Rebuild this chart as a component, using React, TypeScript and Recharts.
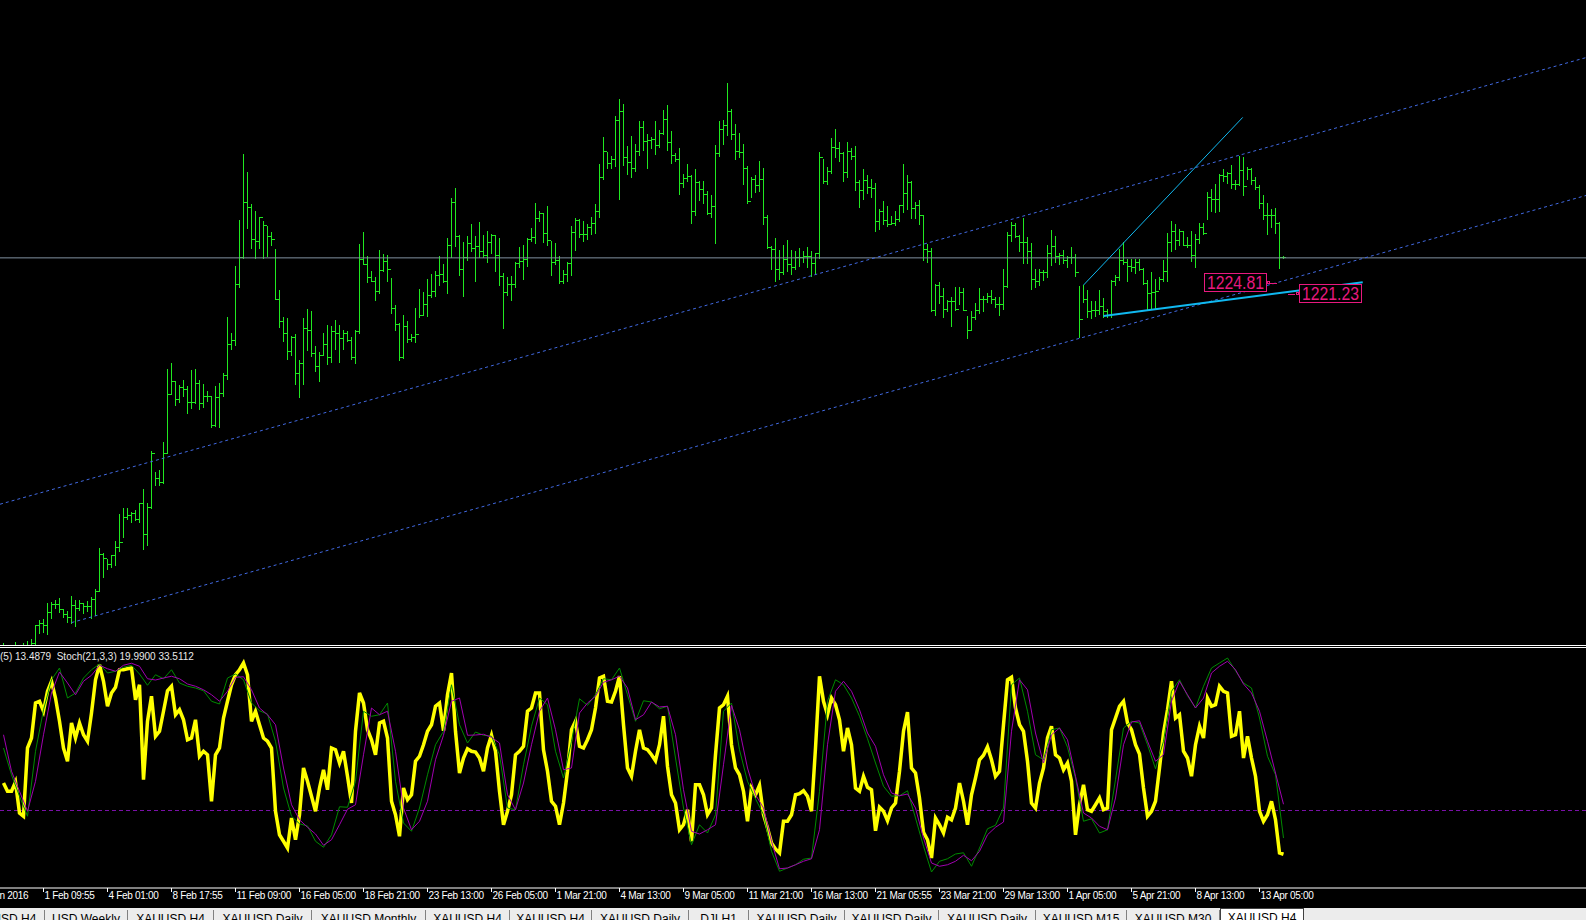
import React from 'react';
import {
  ComposedChart,
  Bar,
  Line,
  XAxis,
  YAxis,
  ReferenceLine,
  ReferenceDot,
} from 'recharts';

// ============================================
// XAUUSD H4, 27 Jan - 13 Apr 2016
// ============================================
const highs = [
  1111.9, 1110.8, 1110.5, 1112.1, 1110.9, 1111.9, 1112.4, 1113.1, 1117.6, 1119.2,
  1119.4, 1124.4, 1124.6, 1125.4, 1125.9, 1122.7, 1121.9, 1126.6, 1125.4, 1125.4,
  1124.4, 1124.9, 1126.2, 1128.7, 1141.6, 1140.0, 1138.1, 1139.5, 1143.7, 1152.3,
  1154.2, 1154.2, 1153.0, 1153.5, 1155.8, 1160.0, 1155.6, 1171.8, 1165.5, 1166.0,
  1174.8, 1197.7, 1199.4, 1193.7, 1192.6, 1194.2, 1192.1, 1197.3, 1197.5, 1194.2,
  1192.9, 1190.8, 1189.2, 1192.1, 1193.1, 1196.2, 1213.7, 1208.9, 1229.8, 1244.2,
  1264.8, 1259.2, 1249.2, 1247.0, 1245.2, 1243.8, 1242.3, 1240.4, 1235.1, 1222.3,
  1213.7, 1213.5, 1207.9, 1208.5, 1200.4, 1213.5, 1216.3, 1215.7, 1204.6, 1202.9,
  1208.7, 1211.2, 1211.0, 1212.9, 1211.2, 1209.6, 1209.4, 1207.5, 1209.8, 1236.6,
  1240.3, 1232.9, 1228.1, 1226.4, 1234.8, 1233.5, 1233.1, 1226.0, 1217.5, 1211.9,
  1214.5, 1212.6, 1208.4, 1216.6, 1222.6, 1221.6, 1225.7, 1227.3, 1228.2, 1232.9,
  1230.4, 1238.5, 1251.0, 1254.2, 1239.5, 1237.3, 1239.2, 1242.9, 1239.2, 1243.5,
  1239.6, 1240.6, 1239.8, 1239.5, 1238.5, 1227.7, 1226.4, 1226.6, 1231.0, 1235.8,
  1236.4, 1238.5, 1241.6, 1249.5, 1247.0, 1246.3, 1248.5, 1237.7, 1237.0, 1232.9,
  1228.5, 1231.0, 1242.3, 1244.8, 1244.4, 1243.8, 1242.9, 1245.2, 1249.2, 1261.7,
  1270.1, 1265.4, 1264.2, 1276.7, 1282.0, 1280.4, 1267.3, 1270.4, 1267.9, 1275.1,
  1275.0, 1271.0, 1270.0, 1275.1, 1272.3, 1278.4, 1280.1, 1272.0, 1265.0, 1266.6,
  1258.5, 1261.7, 1258.3, 1260.1, 1256.4, 1256.3, 1253.2, 1251.9, 1267.6, 1275.1,
  1275.3, 1287.0, 1278.7, 1274.2, 1271.2, 1267.9, 1261.0, 1257.7, 1258.1, 1262.6,
  1260.4, 1245.7, 1236.1, 1238.5, 1234.8, 1236.4, 1237.9, 1234.8, 1234.4, 1235.4,
  1234.3, 1235.7, 1234.4, 1233.8, 1265.4, 1263.3, 1260.6, 1269.8, 1272.5, 1268.5,
  1265.4, 1268.5, 1266.6, 1267.3, 1256.7, 1260.0, 1258.3, 1257.1, 1255.7, 1247.7,
  1250.1, 1248.5, 1245.4, 1246.9, 1248.7, 1261.7, 1258.2, 1256.4, 1249.7, 1250.4,
  1245.6, 1236.6, 1235.4, 1224.1, 1224.8, 1222.9, 1219.0, 1220.2, 1223.3, 1223.3,
  1222.9, 1214.1, 1215.6, 1218.3, 1222.9, 1220.4, 1221.2, 1222.3, 1220.0, 1220.0,
  1228.9, 1240.3, 1243.5, 1243.1, 1239.4, 1244.9, 1238.7, 1236.9, 1228.7, 1228.7,
  1228.5, 1236.4, 1241.0, 1239.2, 1233.9, 1234.8, 1232.9, 1235.6, 1233.5, 1223.5,
  1223.7, 1222.3, 1218.9, 1218.7, 1222.3, 1219.7, 1216.2, 1225.4, 1227.1, 1235.0,
  1237.2, 1232.1, 1231.9, 1232.0, 1231.9, 1229.2, 1225.4, 1227.8, 1225.8, 1226.4,
  1231.5, 1240.0, 1243.7, 1242.9, 1241.4, 1240.8, 1238.7, 1240.8, 1239.8, 1243.1,
  1243.1, 1252.9, 1253.9, 1255.4, 1258.4, 1260.0, 1259.2, 1261.2, 1256.7, 1264.2,
  1263.9, 1260.6, 1260.4, 1257.7, 1255.2, 1251.9, 1249.4, 1247.5, 1247.8, 1243.4,
  1232.9,
];

const lows = [
  1106.5, 1106.0, 1105.8, 1107.0, 1106.8, 1107.4, 1108.0, 1108.5, 1110.5, 1115.2,
  1115.5, 1114.6, 1119.6, 1123.0, 1121.5, 1120.0, 1118.6, 1118.3, 1117.3, 1122.3,
  1121.2, 1121.8, 1119.6, 1120.6, 1128.1, 1132.7, 1135.1, 1135.6, 1136.2, 1140.8,
  1145.2, 1150.6, 1149.6, 1150.4, 1149.6, 1141.2, 1142.7, 1154.0, 1161.2, 1161.2,
  1161.9, 1171.4, 1189.7, 1186.3, 1187.1, 1189.0, 1183.8, 1185.3, 1186.9, 1185.2,
  1185.8, 1187.7, 1179.4, 1179.6, 1179.4, 1189.2, 1194.4, 1203.9, 1205.2, 1223.3,
  1232.3, 1241.5, 1235.5, 1232.2, 1235.5, 1232.4, 1233.0, 1236.4, 1219.4, 1210.8,
  1206.4, 1200.8, 1201.9, 1193.0, 1188.9, 1193.0, 1203.5, 1201.5, 1196.8, 1193.9,
  1201.9, 1199.0, 1199.8, 1203.9, 1199.8, 1203.9, 1206.4, 1200.8, 1199.3, 1208.9,
  1230.3, 1224.8, 1225.0, 1219.2, 1221.4, 1228.3, 1225.2, 1215.2, 1209.8, 1200.4,
  1201.1, 1206.1, 1206.2, 1206.1, 1213.9, 1214.5, 1214.1, 1220.2, 1220.5, 1223.9,
  1224.9, 1221.4, 1232.7, 1236.1, 1226.8, 1220.5, 1231.5, 1234.3, 1225.2, 1232.7,
  1232.5, 1231.1, 1233.7, 1228.3, 1223.9, 1210.5, 1220.7, 1219.2, 1223.3, 1229.4,
  1225.8, 1229.9, 1237.5, 1236.9, 1243.7, 1237.3, 1236.4, 1226.8, 1230.3, 1224.4,
  1224.4, 1225.2, 1227.1, 1234.8, 1238.9, 1237.7, 1238.1, 1239.8, 1240.2, 1245.2,
  1257.1, 1260.4, 1260.5, 1261.0, 1250.8, 1261.4, 1258.5, 1257.7, 1259.6, 1264.4,
  1266.0, 1260.5, 1266.6, 1264.9, 1266.8, 1271.1, 1266.1, 1262.1, 1262.5, 1252.4,
  1254.4, 1256.2, 1243.3, 1245.8, 1250.5, 1249.5, 1246.0, 1245.0, 1237.1, 1264.2,
  1268.0, 1270.8, 1269.3, 1263.3, 1263.7, 1255.4, 1249.3, 1251.4, 1252.9, 1253.1,
  1243.0, 1235.3, 1228.9, 1225.2, 1225.8, 1227.3, 1228.3, 1227.4, 1228.9, 1229.9,
  1231.0, 1229.6, 1226.6, 1227.3, 1232.3, 1255.8, 1255.5, 1258.7, 1263.7, 1262.6,
  1256.3, 1257.7, 1263.1, 1253.5, 1248.2, 1250.7, 1252.7, 1251.3, 1240.8, 1241.2,
  1242.8, 1242.4, 1242.8, 1242.5, 1243.7, 1246.7, 1247.5, 1244.9, 1244.8, 1242.9,
  1231.6, 1231.0, 1215.6, 1214.6, 1218.3, 1213.9, 1215.8, 1211.0, 1216.0, 1217.9,
  1216.0, 1207.1, 1209.6, 1213.3, 1215.2, 1215.8, 1218.5, 1218.3, 1217.1, 1214.6,
  1216.2, 1223.1, 1237.7, 1238.9, 1234.6, 1230.8, 1230.8, 1222.7, 1223.3, 1223.7,
  1225.4, 1226.2, 1230.0, 1231.1, 1230.4, 1230.8, 1229.4, 1230.6, 1226.5, 1207.7,
  1218.5, 1213.7, 1213.6, 1214.1, 1214.8, 1213.9, 1213.9, 1213.9, 1223.7, 1225.4,
  1230.4, 1225.2, 1228.1, 1227.7, 1228.5, 1224.1, 1216.0, 1216.2, 1216.2, 1222.7,
  1225.0, 1225.2, 1234.6, 1235.0, 1236.2, 1236.2, 1235.8, 1231.4, 1229.4, 1236.9,
  1239.8, 1244.6, 1246.9, 1246.7, 1246.9, 1256.2, 1255.6, 1254.2, 1253.9, 1255.2,
  1251.9, 1256.9, 1255.4, 1253.9, 1247.9, 1244.6, 1239.9, 1242.1, 1240.2, 1229.0,
  1232.2,
];

const closes = [
  1109.0, 1109.5, 1108.0, 1110.0, 1109.2, 1110.5, 1111.0, 1112.0, 1117.4, 1118.1,
  1117.6, 1121.7, 1124.2, 1124.2, 1122.5, 1121.0, 1120.0, 1123.7, 1122.9, 1124.4,
  1123.5, 1123.5, 1125.6, 1128.1, 1139.8, 1138.5, 1136.7, 1139.4, 1141.9, 1143.5,
  1151.4, 1151.9, 1152.7, 1150.8, 1155.6, 1145.9, 1154.4, 1171.2, 1163.4, 1162.3,
  1171.4, 1189.8, 1193.7, 1188.2, 1191.9, 1191.2, 1187.1, 1187.1, 1193.1, 1186.9,
  1189.2, 1189.2, 1180.0, 1188.7, 1190.2, 1195.6, 1205.4, 1206.6, 1224.0, 1232.5,
  1249.7, 1248.1, 1238.1, 1237.7, 1245.0, 1242.5, 1239.2, 1238.1, 1219.6, 1212.5,
  1208.7, 1203.1, 1207.7, 1196.2, 1199.4, 1210.4, 1209.8, 1202.5, 1198.5, 1201.9,
  1205.4, 1201.2, 1209.4, 1208.7, 1207.3, 1208.9, 1206.6, 1201.2, 1209.4, 1232.1,
  1230.4, 1226.4, 1225.2, 1221.9, 1228.5, 1231.2, 1228.9, 1216.6, 1211.5, 1201.4,
  1211.0, 1206.9, 1207.7, 1208.5, 1214.4, 1217.9, 1220.6, 1221.9, 1226.9, 1227.3,
  1225.0, 1236.3, 1249.7, 1239.2, 1228.7, 1232.5, 1236.9, 1235.4, 1236.0, 1234.4,
  1233.3, 1237.3, 1239.4, 1233.1, 1226.6, 1221.6, 1224.1, 1224.1, 1230.6, 1231.2,
  1232.1, 1238.1, 1238.9, 1244.8, 1246.2, 1240.0, 1237.8, 1231.0, 1231.6, 1225.1,
  1227.3, 1230.6, 1240.4, 1244.1, 1239.8, 1239.8, 1241.9, 1243.1, 1246.9, 1257.5,
  1265.6, 1261.9, 1263.3, 1275.4, 1278.3, 1263.9, 1262.3, 1260.4, 1265.8, 1273.3,
  1268.9, 1269.1, 1269.4, 1267.5, 1271.2, 1275.8, 1268.5, 1264.4, 1263.1, 1255.6,
  1257.3, 1257.9, 1246.9, 1256.0, 1253.9, 1252.3, 1246.4, 1248.5, 1265.0, 1272.5,
  1273.7, 1278.3, 1271.0, 1265.8, 1265.4, 1260.3, 1250.0, 1256.9, 1255.0, 1256.9,
  1245.0, 1235.6, 1235.2, 1228.7, 1228.0, 1231.9, 1230.4, 1229.6, 1232.7, 1232.5,
  1232.9, 1232.9, 1230.8, 1233.7, 1263.7, 1256.4, 1259.4, 1266.9, 1266.5, 1265.2,
  1259.2, 1265.8, 1264.2, 1256.0, 1253.5, 1256.7, 1254.4, 1254.0, 1243.7, 1246.9,
  1244.1, 1242.9, 1243.1, 1244.4, 1248.7, 1252.7, 1256.0, 1247.8, 1248.9, 1245.6,
  1235.0, 1234.4, 1216.0, 1223.7, 1220.4, 1216.4, 1218.7, 1218.7, 1216.4, 1221.6,
  1216.0, 1209.6, 1213.7, 1216.0, 1219.4, 1219.6, 1220.4, 1219.6, 1217.9, 1217.9,
  1223.5, 1239.4, 1242.5, 1239.2, 1237.2, 1237.2, 1234.4, 1225.8, 1225.0, 1227.9,
  1227.9, 1233.7, 1236.0, 1232.9, 1233.1, 1231.6, 1232.5, 1232.5, 1228.0, 1213.1,
  1219.6, 1215.6, 1216.0, 1216.0, 1217.3, 1215.6, 1214.4, 1225.0, 1226.4, 1231.6,
  1231.0, 1229.8, 1229.6, 1231.0, 1228.7, 1224.6, 1221.4, 1221.6, 1221.9, 1225.6,
  1228.3, 1237.3, 1240.8, 1237.9, 1240.8, 1236.4, 1236.2, 1233.3, 1238.3, 1242.1,
  1240.0, 1251.4, 1250.8, 1250.8, 1258.2, 1257.9, 1258.7, 1255.4, 1255.4, 1259.8,
  1254.8, 1260.0, 1256.7, 1254.4, 1249.4, 1245.8, 1245.8, 1245.7, 1243.3, 1232.7,
  1232.5,
];

// yellow line, one value per bar
const fastK = [
  42.0, 38.7, 38.7, 42.4, 30.0, 28.7, 56.0, 60.0, 74.0, 74.7,
  70.7, 78.7, 82.7, 76.0, 66.7, 56.0, 50.7, 66.0, 60.0, 66.0,
  61.3, 58.7, 70.0, 83.3, 89.3, 82.7, 72.7, 78.0, 80.3, 87.3,
  87.3, 87.7, 88.0, 75.3, 81.3, 43.3, 66.7, 76.7, 60.7, 62.7,
  70.7, 78.9, 80.7, 69.3, 71.3, 67.3, 59.3, 60.0, 67.3, 52.7,
  54.7, 53.3, 34.7, 53.3, 56.0, 68.0, 74.7, 81.3, 85.3, 87.3,
  90.0, 85.3, 66.7, 70.7, 65.3, 60.0, 58.7, 56.0, 30.7, 21.3,
  18.7, 16.0, 28.0, 19.3, 29.3, 48.0, 42.7, 36.7, 30.7, 40.0,
  47.3, 39.3, 56.0, 55.3, 50.0, 54.7, 44.7, 34.0, 62.7, 78.0,
  74.0, 63.3, 59.3, 53.3, 66.0, 66.7, 60.0, 34.7, 29.3, 20.7,
  40.0, 35.3, 37.3, 50.7, 52.7, 57.3, 62.7, 65.3, 72.7, 74.0,
  62.9, 77.3, 86.0, 62.7, 46.0, 52.0, 55.7, 54.7, 54.4, 52.0,
  46.7, 56.0, 61.1, 54.7, 38.7, 25.3, 30.7, 37.3, 53.3, 54.7,
  56.7, 70.7, 72.0, 78.0, 78.0, 55.3, 46.7, 34.7, 32.7, 25.3,
  34.0, 46.7, 63.3, 66.7, 56.7, 56.0, 59.3, 63.3, 72.0, 84.0,
  84.7, 74.7, 74.4, 78.7, 84.7, 65.3, 48.0, 44.7, 54.7, 63.3,
  56.0, 55.3, 53.3, 50.9, 57.3, 68.7, 48.7, 37.3, 34.0, 23.3,
  25.3, 31.3, 18.7, 41.3, 41.3, 37.3, 29.3, 32.0, 53.3, 72.0,
  73.3, 76.7, 57.3, 48.0, 45.3, 38.7, 26.7, 40.0, 37.3, 41.1,
  29.3, 24.0, 18.0, 15.6, 14.0, 26.7, 26.7, 29.3, 37.3, 37.7,
  38.9, 36.7, 30.7, 56.0, 84.7, 74.7, 69.3, 76.0, 73.3, 67.3,
  54.7, 64.0, 57.3, 40.0, 38.7, 44.7, 40.3, 39.3, 22.9, 32.3,
  30.7, 26.9, 32.0, 34.0, 46.7, 62.7, 70.4, 48.0, 46.0, 36.0,
  22.3, 19.3, 12.0, 28.0, 25.3, 22.0, 28.3, 27.3, 32.0, 42.0,
  34.7, 25.3, 37.3, 44.0, 51.3, 53.1, 56.5, 51.3, 44.7, 46.7,
  65.3, 83.3, 84.3, 72.0, 65.3, 62.7, 50.7, 34.0, 32.0, 42.0,
  48.0, 60.0, 64.7, 53.3, 52.0, 47.3, 50.0, 42.7, 21.3, 33.3,
  41.3, 31.3, 30.7, 33.3, 36.0, 31.3, 32.0, 63.3, 68.0, 72.7,
  74.7, 66.0, 63.3, 57.3, 53.6, 40.0, 28.7, 30.7, 34.7, 48.0,
  62.0, 71.3, 82.7, 68.0, 69.3, 54.7, 52.0, 44.7, 57.3, 64.7,
  60.0, 76.0, 72.7, 73.3, 80.7, 78.7, 78.0, 60.7, 61.3, 70.7,
  52.0, 60.7, 52.0, 44.7, 30.7, 26.7, 29.3, 34.7, 27.3, 14.0,
  13.5,
];

// Stoch(21,3,3) main (green), read at every second bar
const stochMain = [
  56.0, 45.3, 36.7, 28.7, 54.7, 71.3, 83.3, 88.0, 76.0, 78.0,
  84.0, 87.3, 89.6, 86.0, 86.7, 88.3, 89.1, 85.6, 81.1, 85.3,
  83.7, 87.3, 82.0, 80.7, 80.0, 78.9, 74.7, 73.6, 84.0, 85.6,
  83.3, 74.0, 70.9, 69.6, 58.7, 40.0, 28.7, 25.7, 24.8, 18.7,
  16.3, 21.3, 32.5, 32.3, 42.7, 70.7, 68.7, 69.3, 74.0, 42.7,
  26.0, 22.7, 32.0, 45.3, 57.3, 62.7, 81.3, 65.3, 58.0, 62.4,
  61.1, 60.7, 53.3, 32.0, 31.3, 49.3, 64.7, 76.0, 73.3, 54.7,
  44.0, 58.7, 75.7, 73.1, 77.3, 83.7, 83.3, 88.0, 77.3, 66.7,
  74.9, 74.4, 71.7, 72.7, 52.0, 32.0, 17.3, 25.3, 22.0, 29.3,
  70.7, 74.0, 55.3, 42.7, 35.7, 29.3, 14.7, 6.7, 8.0, 9.3,
  11.5, 12.0, 38.7, 74.7, 83.3, 81.3, 76.0, 68.7, 59.7, 50.0,
  40.7, 36.7, 36.9, 38.9, 28.0, 16.7, 6.4, 10.7, 11.7, 13.6,
  14.1, 8.7, 16.0, 23.7, 25.1, 32.0, 81.3, 84.0, 70.7, 53.3,
  51.3, 63.3, 64.0, 56.3, 44.0, 26.7, 27.7, 22.0, 23.3, 43.3,
  64.0, 66.7, 66.0, 57.3, 47.7, 58.7, 78.7, 83.3, 76.9, 72.0,
  80.7, 88.0, 90.0, 92.0, 86.9, 82.0, 80.0, 68.0, 52.7, 45.3,
  20.0,
];

// Stoch(21,3,3) signal (purple), read at every second bar
const stochSignal = [
  61.3, 46.7, 38.7, 30.7, 42.7, 61.3, 78.0, 86.4, 82.0, 77.3,
  82.7, 85.1, 89.1, 87.7, 86.7, 89.1, 89.9, 88.7, 83.7, 83.2,
  84.0, 84.7, 83.7, 81.6, 80.7, 79.3, 77.3, 74.7, 78.7, 84.3,
  84.5, 79.3, 72.0, 69.3, 65.3, 48.0, 33.3, 27.3, 24.3, 21.6,
  17.1, 19.3, 25.3, 31.5, 33.3, 53.3, 72.0, 69.3, 70.7, 54.7,
  32.0, 23.3, 26.7, 34.7, 51.3, 61.1, 74.7, 76.0, 61.1, 61.2,
  61.5, 60.3, 58.0, 37.3, 31.3, 42.0, 57.3, 70.7, 76.0, 63.3,
  47.3, 48.0, 70.0, 74.0, 76.7, 82.3, 83.3, 84.7, 80.0, 67.3,
  69.3, 74.4, 72.4, 72.7, 61.3, 39.3, 22.7, 21.6, 23.3, 25.3,
  49.3, 73.1, 63.3, 48.0, 37.3, 32.0, 18.7, 7.7, 8.0, 9.3,
  10.7, 11.7, 23.3, 57.3, 78.7, 82.7, 78.7, 71.3, 62.0, 56.7,
  45.3, 38.0, 36.9, 37.6, 32.0, 20.0, 10.0, 8.7, 9.3, 10.7,
  13.1, 10.9, 14.7, 21.3, 24.3, 26.4, 62.7, 83.3, 79.3, 62.0,
  50.0, 61.3, 64.0, 59.3, 44.7, 30.0, 28.0, 24.7, 23.3, 36.0,
  57.3, 66.4, 66.9, 58.7, 50.7, 53.3, 74.7, 82.7, 77.3, 72.0,
  76.0, 86.0, 88.7, 90.7, 87.3, 81.6, 78.0, 70.7, 58.7, 46.0,
  33.5,
];

const stochLevel = 31;
const bidPrice = 1232.3;

// time scale: bar index of each label
const timeTickBars = [-7, 10, 26, 42, 58, 74, 90, 106, 122, 138, 154, 170, 186, 202, 218, 234, 250, 266, 282, 298, 314];
const timeLabels = [
  '27 Jan 2016', '1 Feb 09:55', '4 Feb 01:00', '8 Feb 17:55', '11 Feb 09:00', '16 Feb 05:00',
  '18 Feb 21:00', '23 Feb 13:00', '26 Feb 05:00', '1 Mar 21:00', '4 Mar 13:00', '9 Mar 05:00',
  '11 Mar 21:00', '16 Mar 13:00', '21 Mar 05:55', '23 Mar 21:00', '29 Mar 13:00', '1 Apr 05:00',
  '5 Apr 21:00', '8 Apr 13:00', '13 Apr 05:00',
];

// drawn objects: [bar index, price] end points
const channelLines = [
  [{ x: -0.875, y: 1155.3 }, { x: 395.625, y: 1294.9 }],
  [{ x: 17, y: 1118.3 }, { x: 395.625, y: 1251.8 }],
];
const steepLine = [{ x: 270, y: 1223.8 }, { x: 309.8, y: 1276.2 }];
const supportLine = [{ x: 275, y: 1214.15 }, { x: 339.8, y: 1224.7 }];
const priceTags = [
  { bar: 316.1, price: 1224.81, side: 'left' },
  { bar: 323.4, price: 1221.23, side: 'right' },
];

const tabLabels = [
  'XAUUSD,H4', 'USD,Weekly', 'XAUUSD,H4', 'XAUUSD,Daily', 'XAUUSD,Monthly', 'XAUUSD,H4',
  'XAUUSD,H4', 'XAUUSD,Daily', 'DJI,H1', 'XAUUSD,Daily', 'XAUUSD,Daily', 'XAUUSD,Daily',
  'XAUUSD,M15', 'XAUUSD,M30', 'XAUUSD,H4',
];
const tabEdges = [-40, 45, 128, 214, 312, 426, 510, 592, 689, 749, 845, 939, 1036, 1127, 1220, 1304];

// ============================================
// layout
// ============================================
const W = 1586;
const PRICE_H = 645;
const STOCH_TOP = 648;
const STOCH_PLOT_H = 240;
const AXIS_H = 19;
const X_DOMAIN: [number, number] = [-0.875, 395.625];
const PRICE_DOMAIN: [number, number] = [1111.3, 1312.9];

const BAR_GREEN = '#20e820';
const CHANNEL_BLUE = '#4169e1';
const SKY = '#10b8f0';
const TAG_PINK = '#e8197f';
const FONT = '"Liberation Sans", Arial, sans-serif';

const priceRows = highs.map((h, i) => ({
  i,
  high: h,
  low: lows[i],
  close: closes[i],
  open: i > 0 ? closes[i - 1] : closes[i],
}));

const stochRows = fastK.map((v, i) => ({
  i,
  fast: v,
  main: i % 2 === 0 ? stochMain[i / 2] : null,
  signal: i % 2 === 0 ? stochSignal[i / 2] : null,
}));

function OhlcBar(props: any) {
  const { x, y, width, height, payload } = props;
  if (x == null || y == null || !payload) return null;
  const col = Math.floor(x + width / 2);
  const top = Math.min(y, y + height);
  const bottom = Math.max(y, y + height);
  const span = payload.high - payload.low;
  const k = span > 0 ? (bottom - top) / span : 0;
  const oy = Math.round(top + (payload.high - payload.open) * k);
  const cy = Math.round(top + (payload.high - payload.close) * k);
  return (
    <g fill={BAR_GREEN}>
      <rect x={col} y={Math.round(top)} width={1} height={Math.max(1, Math.round(bottom) - Math.round(top) + 1)} />
      <rect x={col - 1} y={oy} width={1} height={1} />
      <rect x={col + 1} y={cy} width={2} height={1} />
    </g>
  );
}

function PriceTag(props: any) {
  const { cx, cy, text, side } = props;
  if (cx == null || cy == null) return null;
  const ax = Math.round(cx);
  const ay = Math.round(cy);
  const boxW = 62;
  const boxH = 18;
  const bx = side === 'left' ? ax - boxW - 2 : ax + 2;
  const lineX1 = side === 'left' ? ax + 2 : ax - 9;
  const lineX2 = side === 'left' ? ax + 9 : ax - 2;
  return (
    <g>
      <rect x={bx + 0.5} y={ay - 9 + 0.5} width={boxW} height={boxH} fill="#000" stroke={TAG_PINK} strokeWidth={1} />
      <text
        x={bx + 3}
        y={ay + 7}
        fill={TAG_PINK}
        fontSize={19}
        fontFamily={FONT}
        textLength={57}
        lengthAdjust="spacingAndGlyphs"
      >
        {text}
      </text>
      <rect x={ax - 1 + 0.5} y={ay - 1 + 0.5} width={2} height={2} fill="#000" stroke={TAG_PINK} strokeWidth={1} />
      <line x1={lineX1} x2={lineX2} y1={ay + 1.5} y2={ay + 1.5} stroke={TAG_PINK} strokeWidth={1} />
    </g>
  );
}

function TimeTick(props: any) {
  const { x, y, payload } = props;
  const idx = timeTickBars.indexOf(payload.value);
  if (idx < 0) return null;
  return (
    <text x={x + 1} y={y + 7} fill="#ffffff" fontSize={10} fontFamily={FONT} letterSpacing={-0.3}>
      {timeLabels[idx]}
    </text>
  );
}

function PriceChart() {
  return (
    <ComposedChart width={W} height={PRICE_H} data={priceRows} margin={{ top: 0, right: 0, bottom: 0, left: 0 }}>
      <XAxis dataKey="i" type="number" domain={X_DOMAIN} allowDataOverflow hide />
      <YAxis type="number" domain={PRICE_DOMAIN} allowDataOverflow hide />
      <ReferenceLine y={bidPrice} stroke="#8090a0" strokeWidth={1} />
      {channelLines.map((seg, n) => (
        <ReferenceLine
          key={`ch-${n}`}
          segment={seg}
          stroke={CHANNEL_BLUE}
          strokeWidth={1}
          strokeDasharray="3 3"
          ifOverflow="hidden"
        />
      ))}
      <Bar
        dataKey={(d: any) => [d.low, d.high]}
        barSize={1}
        shape={(p: any) => <OhlcBar {...p} />}
        isAnimationActive={false}
      />
      <ReferenceLine segment={steepLine} stroke={SKY} strokeWidth={1} ifOverflow="hidden" />
      <ReferenceLine segment={supportLine} stroke={SKY} strokeWidth={2} ifOverflow="hidden" />
      {priceTags.map((t) => (
        <ReferenceDot
          key={t.price}
          x={t.bar}
          y={t.price}
          ifOverflow="visible"
          shape={(p: any) => <PriceTag {...p} text={t.price.toFixed(2)} side={t.side} />}
        />
      ))}
    </ComposedChart>
  );
}

function StochChart() {
  return (
    <ComposedChart
      width={W}
      height={STOCH_PLOT_H + AXIS_H}
      data={stochRows}
      margin={{ top: 0, right: 0, bottom: 0, left: 0 }}
    >
      <XAxis
        dataKey="i"
        type="number"
        domain={X_DOMAIN}
        allowDataOverflow
        ticks={timeTickBars}
        interval={0}
        height={AXIS_H}
        axisLine={{ stroke: '#ffffff' }}
        tickLine={{ stroke: '#ffffff' }}
        tickSize={4}
        tickMargin={0}
        tick={(p: any) => <TimeTick {...p} />}
      />
      <YAxis type="number" domain={[0, 96]} allowDataOverflow hide />
      <ReferenceLine y={stochLevel} stroke="#7a10a8" strokeDasharray="4 3" />
      <Line dataKey="fast" stroke="#ffff00" strokeWidth={3.5} dot={false} isAnimationActive={false} />
      <Line dataKey="main" stroke="#008a00" strokeWidth={1} dot={false} connectNulls isAnimationActive={false} />
      <Line dataKey="signal" stroke="#a000b0" strokeWidth={1} dot={false} connectNulls isAnimationActive={false} />
    </ComposedChart>
  );
}

function TabBar() {
  return (
    <div style={{ position: 'absolute', left: 0, top: 908, width: W, height: 12, background: '#ececec', overflow: 'hidden' }}>
      {tabLabels.map((label, n) => {
        const left = tabEdges[n];
        const width = tabEdges[n + 1] - left;
        const active = n === tabLabels.length - 1;
        return (
          <div
            key={n}
            style={{
              position: 'absolute',
              left,
              top: active ? 0 : 2,
              width,
              height: 14,
              boxSizing: 'border-box',
              background: active ? '#ffffff' : 'transparent',
              border: active ? '1px solid #404040' : 'none',
              borderRight: active ? '1px solid #404040' : '1px solid #808080',
              fontFamily: FONT,
              fontSize: 12,
              lineHeight: '14px',
              color: '#000',
              textAlign: 'center',
              whiteSpace: 'nowrap',
              paddingTop: 2,
            }}
          >
            {label}
          </div>
        );
      })}
    </div>
  );
}

export default function App() {
  return (
    <div style={{ position: 'fixed', left: 0, top: 0, width: W, height: 920, background: '#000', overflow: 'hidden' }}>
      <div style={{ position: 'absolute', left: 0, top: 0 }}>
        <PriceChart />
      </div>
      <div style={{ position: 'absolute', left: 0, top: 645, width: W, height: 1, background: '#ffffff' }} />
      <div style={{ position: 'absolute', left: 0, top: 647, width: W, height: 1, background: '#ffffff' }} />
      <div style={{ position: 'absolute', left: 0, top: STOCH_TOP }}>
        <StochChart />
      </div>
      <div
        style={{
          position: 'absolute',
          left: 0,
          top: 651,
          fontFamily: FONT,
          fontSize: 10,
          color: '#e8e8e8',
          whiteSpace: 'pre',
          lineHeight: '12px',
        }}
      >
        {'(5) 13.4879  Stoch(21,3,3) 19.9900 33.5112'}
      </div>
      <TabBar />
    </div>
  );
}
